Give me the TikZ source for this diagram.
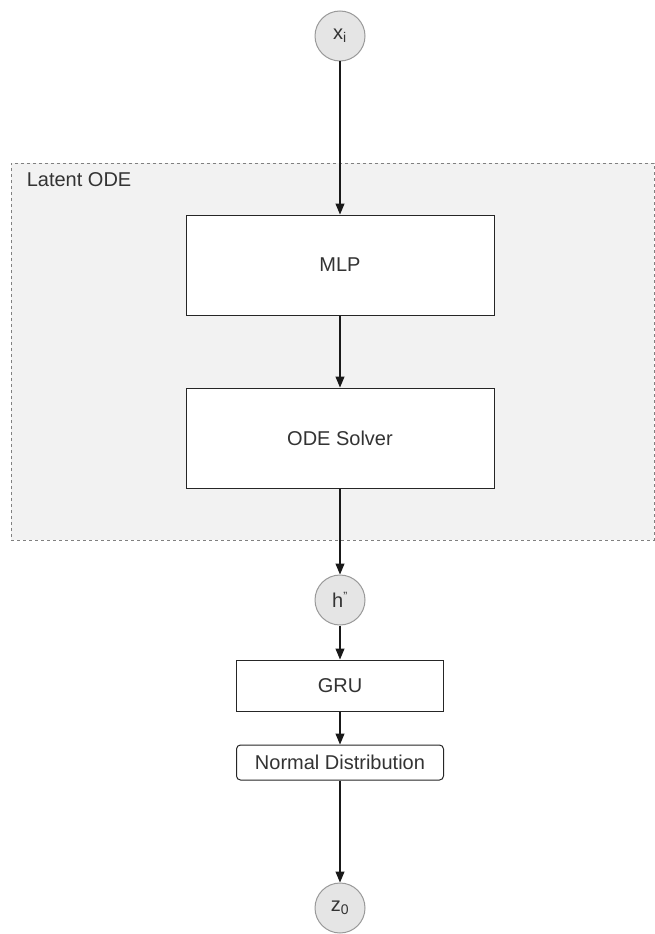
\documentclass[tikz,border=0pt]{standalone}
\usepackage{fontspec}
\setmainfont{Liberation Sans}
\usetikzlibrary{arrows.meta}
\begin{document}
\begin{tikzpicture}[x=1pt,y=-1pt,
  every node/.style={font=\fontsize{20}{24}\selectfont, text=black!80},
  proc/.style={draw=black!85, fill=white, line width=1pt, minimum width=308pt, minimum height=100pt, inner sep=0pt},
  small/.style={draw=black!85, fill=white, line width=1pt, minimum width=207pt, inner sep=0pt},
  var/.style={circle, draw=black!40, fill=black!10, line width=1pt, minimum size=50pt, inner sep=0pt},
  arr/.style={-{Triangle[width=9pt,length=11pt]}, line width=1.1pt, draw=black!90}]
\useasboundingbox (0,0) rectangle (655,934);
\node[draw=black!50, dashed, fill=black!5, line width=0.8pt, minimum width=643pt, minimum height=377pt, inner sep=0pt] (lat) at (332.5,351.5) {};
\node[anchor=north west, inner sep=0pt] (latlbl) at (lat.north west) [xshift=16pt, yshift=-10pt] {Latent ODE};
\node[var] (xi) at (340,36) {x\textsubscript{i}};
\node[proc] (mlp) at (340,265) {MLP};
\node[proc] (ode) at (340,438) {ODE Solver};
\node[var] (h) at (340,600) {h\textsuperscript{\fontsize{12}{12}\selectfont "}};
\node[small, minimum height=51pt] (gru) at (340,685.5) {GRU};
\node[small, minimum height=35pt, rounded corners=4pt] (nd) at (340,762.5) {Normal Distribution};
\node[var] (z) at (340,908) {z\textsubscript{0}};
\draw[arr] (xi) -- (mlp);
\draw[arr] (mlp) -- (ode);
\draw[arr] (ode) -- (h);
\draw[arr] (h) -- (gru);
\draw[arr] (gru) -- (nd);
\draw[arr] (nd) -- (z);
\end{tikzpicture}
\end{document}
